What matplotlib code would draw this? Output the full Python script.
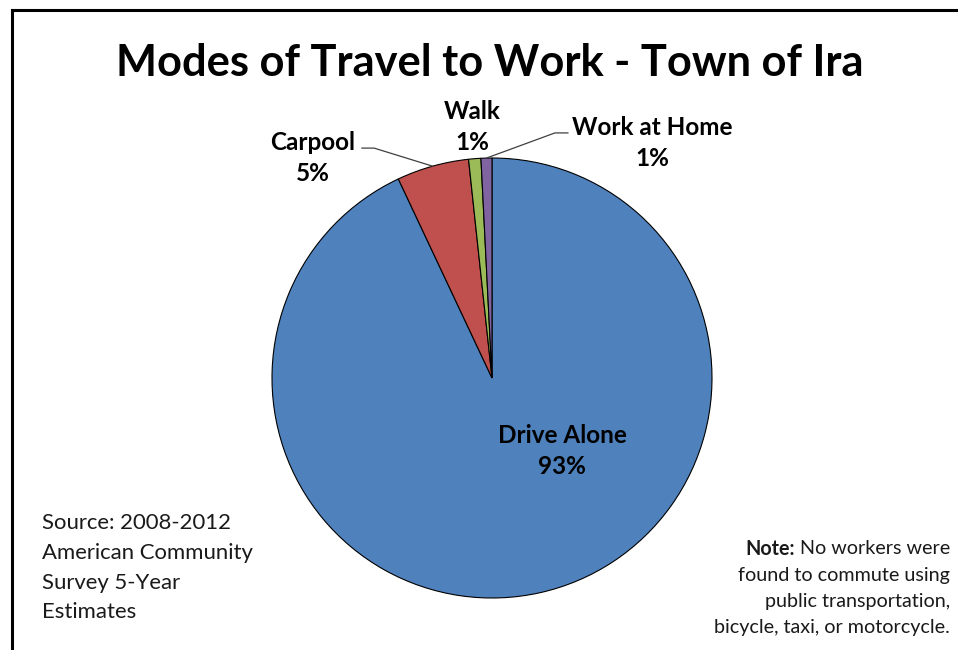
import numpy as np
import matplotlib
matplotlib.use("Agg")
import matplotlib.pyplot as plt
from matplotlib.lines import Line2D

plt.rcParams['font.family'] = ['Lato', 'DejaVu Sans']

categories = ["Drive Alone", "Carpool", "Walk", "Work at Home"]
values = [93.0, 5.3, 0.9, 0.8]
pct_labels = ["93%", "5%", "1%", "1%"]
colors = ["#4F81BD", "#C0504D", "#9BBB59", "#8064A2"]

title = "Modes of Travel to Work - Town of Ira"
source_lines = ["Source: 2008-2012", "American Community", "Survey 5-Year", "Estimates"]
note_head = "Note:"
note_lines = [" No workers were", "found to commute using",
              "public transportation,", "bicycle, taxi, or motorcycle."]

W, H = 958, 650
fig = plt.figure(figsize=(W / 100, H / 100), dpi=100)
fig.patch.set_facecolor("white")

# frame (top and left edges visible)
fig.add_artist(Line2D([12 / W, 1.0], [1 - 10 / H, 1 - 10 / H], color="black", lw=2.2))
fig.add_artist(Line2D([12 / W, 12 / W], [0, 1 - 10 / H], color="black", lw=2.2))

# pie axes: center (492,378), r=220 px
cx, cy, r = 492, 378, 220
ax = fig.add_axes([(cx - r) / W, 1 - (cy + r) / H, 2 * r / W, 2 * r / H])
wedges, _ = ax.pie(values, colors=colors, startangle=90, counterclock=False,
                   wedgeprops=dict(edgecolor="black", linewidth=0.8), radius=1.0)
ax.set_xlim(-1, 1)
ax.set_ylim(-1, 1)
ax.set_aspect("equal")
ax.axis("off")

# labels
label_pos = {
    "Drive Alone": (0.318, -0.33),
    "Carpool": (-0.814, 1.0),
    "Walk": (-0.091, 1.14),
    "Work at Home": (0.727, 1.068),
}
for cat, pct in zip(categories, pct_labels):
    x, y = label_pos[cat]
    ax.text(x, y, f"{cat}\n{pct}", ha="center", va="center", fontsize=17.5,
            fontweight="bold", linespacing=1.42, clip_on=False)

def wedge_mid(w):
    a = np.deg2rad((w.theta1 + w.theta2) / 2)
    return np.cos(a), np.sin(a)

# leader lines
mx, my = wedge_mid(wedges[1])
ax.plot([-0.591, -0.536, mx], [1.045, 1.045, my], color="#404040", lw=0.9, clip_on=False)
mx, my = wedge_mid(wedges[3])
ax.plot([0.345, 0.286, mx], [1.114, 1.114, my], color="#404040", lw=0.9, clip_on=False)

# title
fig.text(490 / W, 1 - 63.5 / H, title, ha="center", va="center", fontsize=31.2,
         fontweight="bold")

# source
src_y = [523, 553, 583, 612]
for line, y in zip(source_lines, src_y):
    fig.text(42 / W, 1 - y / H, line, ha="left", va="center", fontsize=15.9,
             color="#1a1a1a")

# note
note_y = [549, 575, 601, 627]
renderer = fig.canvas.get_renderer()
first = None
for line, y in zip(note_lines, note_y):
    t = fig.text(950 / W, 1 - y / H, line, ha="right", va="center", fontsize=14.2,
                 color="#1a1a1a")
    if first is None:
        first = t
bb = first.get_window_extent(renderer=renderer)
fig.text(bb.x0 / W, 1 - note_y[0] / H, note_head, ha="right", va="center",
         fontsize=14.2, fontweight="bold", color="#1a1a1a")

fig.savefig("out.png", dpi=100)
